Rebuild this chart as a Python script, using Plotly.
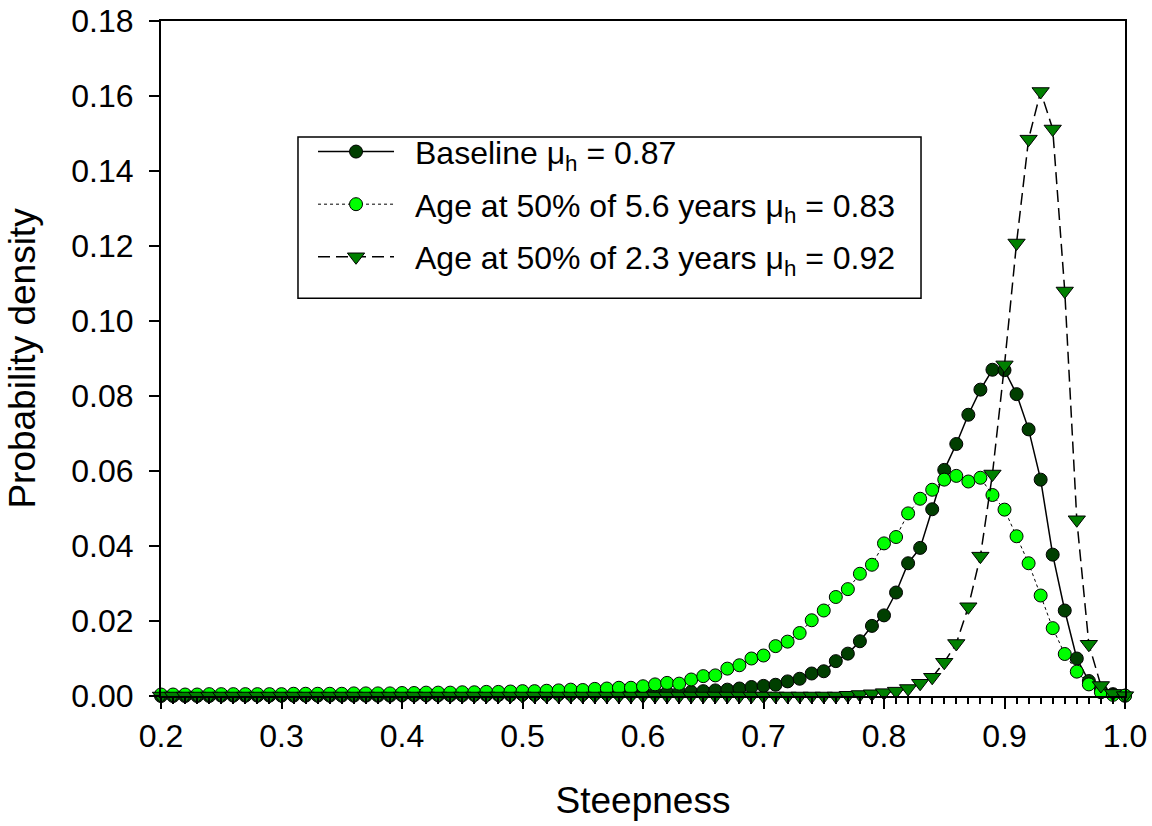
import plotly.graph_objects as go

steepness = [round(0.20 + 0.01 * i, 2) for i in range(81)]

baseline = [
    0.0000, 0.0000, 0.0000, 0.0000, 0.0000, 0.0001, 0.0001, 0.0001, 0.0001, 0.0001,
    0.0001, 0.0001, 0.0001, 0.0001, 0.0001, 0.0001, 0.0001, 0.0001, 0.0001, 0.0001,
    0.0002, 0.0002, 0.0002, 0.0002, 0.0002, 0.0002, 0.0003, 0.0003, 0.0003, 0.0003,
    0.0004, 0.0004, 0.0004, 0.0005, 0.0005, 0.0005, 0.0006, 0.0006, 0.0007, 0.0007,
    0.0008, 0.0008, 0.0009, 0.0010, 0.0011, 0.0013, 0.0015, 0.0017, 0.0020, 0.0024,
    0.0027, 0.0030, 0.0039, 0.0046, 0.0060, 0.0066, 0.0093, 0.0113, 0.0146, 0.0187,
    0.0215, 0.0276, 0.0354, 0.0395, 0.0498, 0.0603, 0.0672, 0.0750, 0.0817, 0.0870,
    0.0869, 0.0805, 0.0711, 0.0577, 0.0377, 0.0228, 0.0100, 0.0040, 0.0015, 0.0005,
    0.0001,
]

age_5_6 = [
    0.0004, 0.0004, 0.0004, 0.0004, 0.0005, 0.0005, 0.0005, 0.0005, 0.0005, 0.0005,
    0.0005, 0.0006, 0.0006, 0.0006, 0.0006, 0.0006, 0.0007, 0.0007, 0.0007, 0.0007,
    0.0008, 0.0008, 0.0009, 0.0009, 0.0009, 0.0010, 0.0010, 0.0011, 0.0011, 0.0012,
    0.0013, 0.0013, 0.0014, 0.0015, 0.0017, 0.0016, 0.0019, 0.0020, 0.0022, 0.0022,
    0.0026, 0.0031, 0.0035, 0.0033, 0.0044, 0.0053, 0.0055, 0.0073, 0.0082, 0.0100,
    0.0108, 0.0133, 0.0145, 0.0168, 0.0202, 0.0228, 0.0264, 0.0285, 0.0326, 0.0350,
    0.0407, 0.0424, 0.0487, 0.0526, 0.0550, 0.0577, 0.0587, 0.0572, 0.0582, 0.0536,
    0.0497, 0.0426, 0.0354, 0.0268, 0.0181, 0.0112, 0.0065, 0.0031, 0.0010, 0.0003,
    0.0001,
]

age_2_3 = [
    0.0000, 0.0000, 0.0000, 0.0000, 0.0000, 0.0000, 0.0000, 0.0000, 0.0000, 0.0000,
    0.0000, 0.0000, 0.0000, 0.0000, 0.0000, 0.0000, 0.0000, 0.0000, 0.0000, 0.0000,
    0.0000, 0.0000, 0.0000, 0.0000, 0.0000, 0.0000, 0.0000, 0.0000, 0.0000, 0.0000,
    0.0000, 0.0000, 0.0000, 0.0000, 0.0000, 0.0000, 0.0000, 0.0000, 0.0000, 0.0000,
    0.0000, 0.0000, 0.0000, 0.0000, 0.0000, 0.0000, 0.0000, 0.0000, 0.0000, 0.0000,
    0.0000, 0.0000, 0.0000, 0.0000, 0.0000, 0.0000, 0.0000, 0.0002, 0.0004, 0.0006,
    0.0009, 0.0013, 0.0020, 0.0034, 0.0050, 0.0090, 0.0140, 0.0238, 0.0373, 0.0592,
    0.0883, 0.1208, 0.1485, 0.1612, 0.1512, 0.1080, 0.0470, 0.0138, 0.0028, 0.0007,
    0.0001,
]

labels = [
    "\u2002Baseline \u03bc<sub>h</sub> = 0.87",
    "\u2002Age at 50% of 5.6 years \u03bc<sub>h</sub> = 0.83",
    "\u2002Age at 50% of 2.3 years \u03bc<sub>h</sub> = 0.92",
]

FONT = "Liberation Sans, Arial, sans-serif"

fig = go.Figure()
fig.add_trace(go.Scatter(
    x=steepness, y=baseline, mode="lines+markers", name=labels[0],
    line=dict(color="black", width=1.5),
    marker=dict(symbol="circle", size=13, color="#003f00", line=dict(color="black", width=1)),
    cliponaxis=False, legendgroup="a",
))
fig.add_trace(go.Scatter(
    x=steepness, y=age_5_6, mode="lines+markers", name=labels[1],
    line=dict(color="black", width=1, dash="dot"),
    marker=dict(symbol="circle", size=13, color="#00ff00", line=dict(color="black", width=1)),
    cliponaxis=False, legendgroup="b",
))
fig.add_trace(go.Scatter(
    x=steepness, y=age_2_3, mode="lines+markers", name=labels[2],
    line=dict(color="black", width=1.5, dash="12px,6px"),
    marker=dict(symbol="triangle-down", size=15, color="#008000", line=dict(color="black", width=1)),
    cliponaxis=False, legendgroup="c",
))

# legend frame
fig.add_shape(type="rect", xref="paper", yref="paper",
              x0=0.1421, x1=0.7884, y0=0.5894, y1=0.8281,
              line=dict(color="black", width=1.5), fillcolor="rgba(0,0,0,0)")

fig.update_layout(
    width=1152, height=826,
    margin=dict(l=161, r=27, t=21, b=130),
    paper_bgcolor="white", plot_bgcolor="white",
    font=dict(family=FONT, size=32, color="black"),
    showlegend=True,
    legend=dict(
        x=0.1577, y=0.847, xanchor="left", yanchor="top",
        bgcolor="rgba(0,0,0,0)", borderwidth=0,
        font=dict(family=FONT, size=32, color="black"),
        itemwidth=76, traceorder="grouped", tracegroupgap=8,
    ),
    xaxis=dict(
        range=[0.2, 1.0], dtick=0.1, tick0=0.2, tickformat=".1f",
        showgrid=False, zeroline=False, automargin=False,
        showline=True, linecolor="black", linewidth=2, mirror=True,
        ticks="outside", ticklen=11, tickwidth=1.5, tickcolor="black",
        minor=dict(dtick=0.01, ticks="outside", ticklen=6, tickwidth=1.5, tickcolor="black"),
        tickfont=dict(family=FONT, size=32),
        title=dict(text="Steepness", font=dict(family=FONT, size=37), standoff=34),
    ),
    yaxis=dict(
        range=[0, 0.18], dtick=0.02, tickformat=".2f",
        showgrid=False, zeroline=False, automargin=False,
        showline=True, linecolor="black", linewidth=2, mirror=True,
        ticks="outside", ticklen=10, tickwidth=1.5, tickcolor="black",
        ticklabelstandoff=9,
        tickfont=dict(family=FONT, size=32),
        title=dict(text="Probability density", font=dict(family=FONT, size=37), standoff=24),
    ),
)

fig.write_html("out.html")
